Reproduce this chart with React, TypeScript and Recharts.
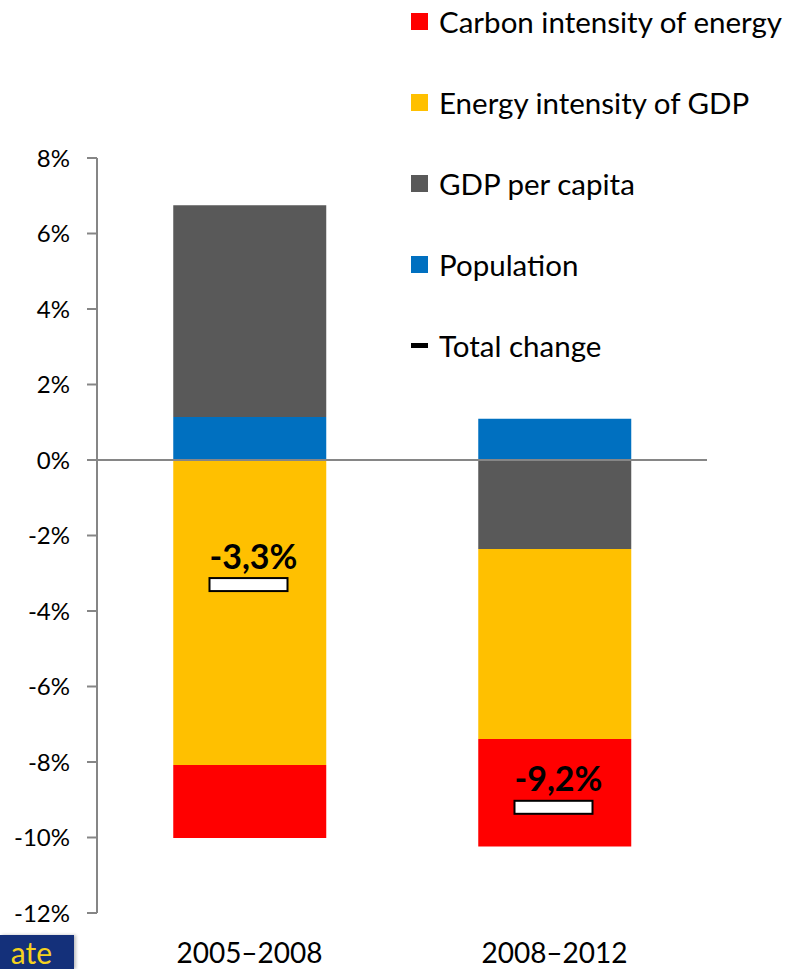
import {
  ComposedChart,
  Bar,
  Line,
  XAxis,
  YAxis,
  ReferenceLine,
  Legend,
} from "recharts";

const periods = ["2005–2008", "2008–2012"];
const population = [1.14, 1.09];
const gdpPerCapita = [5.61, -2.36];
const energyIntensity = [-8.08, -5.03];
const carbonIntensity = [-1.93, -2.85];
const totalChange = [-3.3, -9.2];
const yTicks = [-12, -10, -8, -6, -4, -2, 0, 2, 4, 6, 8];

const SERIES = [
  { key: "population", name: "Population", color: "#0070C0" },
  { key: "gdp", name: "GDP per capita", color: "#595959" },
  { key: "energy", name: "Energy intensity of GDP", color: "#FFC000" },
  { key: "carbon", name: "Carbon intensity of energy", color: "#FF0000" },
];

const data = periods.map((p, i) => ({
  period: p,
  population: population[i],
  gdp: gdpPerCapita[i],
  energy: energyIntensity[i],
  carbon: carbonIntensity[i],
  total: totalChange[i],
}));

const FONT = "Lato, 'Open Sans', sans-serif";

function TotalMarker(props: any) {
  const { cx, cy, value, index } = props;
  if (cx == null || cy == null) return null;
  const label = value.toFixed(1).replace(".", ",") + "%";
  return (
    <g key={`total-${index}`}>
      <text
        x={cx + 4}
        y={cy - 16}
        textAnchor="middle"
        fontFamily={FONT}
        fontWeight={700}
        fontSize={34}
        fill="#000"
      >
        {label}
      </text>
      <rect
        x={cx - 40}
        y={cy - 6.5}
        width={78}
        height={13}
        fill="#fff"
        stroke="#000"
        strokeWidth={2}
      />
    </g>
  );
}

function LegendBox() {
  const items = [...SERIES].reverse();
  // zero-height wrapper so the legend does not push the plot down
  return (
    <div style={{ height: 0, overflow: "visible" }}>
      <div style={{ fontFamily: FONT, fontSize: 29.5, color: "#000" }}>
        {items.map((s) => (
          <div
            key={s.key}
            style={{ display: "flex", alignItems: "center", height: 81 }}
          >
            <span
              style={{
                display: "inline-block",
                width: 17,
                height: 17,
                background: s.color,
                marginRight: 11,
              }}
            />
            <span>{s.name}</span>
          </div>
        ))}
        <div style={{ display: "flex", alignItems: "center", height: 81 }}>
          <span
            style={{
              display: "inline-block",
              width: 17,
              height: 5,
              background: "#000",
              marginRight: 11,
            }}
          />
          <span>Total change</span>
        </div>
      </div>
    </div>
  );
}

export default function App() {
  return (
    <div
      style={{
        position: "absolute",
        left: 0,
        top: 0,
        width: 798,
        height: 969,
        background: "#fff",
        overflow: "hidden",
      }}
    >
      <ComposedChart
        width={798}
        height={969}
        data={data}
        stackOffset="sign"
        barCategoryGap="25%"
        margin={{ top: 158, right: 91, bottom: 0, left: 0 }}
      >
        <XAxis
          dataKey="period"
          axisLine={false}
          tickLine={false}
          tickSize={0}
          tickMargin={30}
          height={56}
          tick={{ fontFamily: FONT, fontSize: 28, fill: "#000" }}
        />
        <YAxis
          width={97}
          domain={[-12, 8]}
          ticks={yTicks}
          interval={0}
          tickSize={10}
          tickMargin={17}
          tickFormatter={(v) => `${v}%`}
          axisLine={{ stroke: "#868686", strokeWidth: 2 }}
          tickLine={{ stroke: "#868686", strokeWidth: 2 }}
          tick={{ fontFamily: FONT, fontSize: 24, fill: "#000" }}
        />
        <Legend
          verticalAlign="top"
          align="right"
          content={() => <LegendBox />}
          wrapperStyle={{ position: "absolute", top: -19, left: 411, width: 390 }}
        />
        {SERIES.map((s) => (
          <Bar
            key={s.key}
            dataKey={s.key}
            name={s.name}
            stackId="a"
            fill={s.color}
            isAnimationActive={false}
          />
        ))}
        <ReferenceLine y={0} stroke="#868686" strokeWidth={2} />
        <Line
          dataKey="total"
          name="Total change"
          stroke="none"
          legendType="none"
          dot={(p: any) => <TotalMarker {...p} />}
          activeDot={false}
          isAnimationActive={false}
        />
      </ComposedChart>
      <div
        style={{
          position: "absolute",
          left: 0,
          top: 935,
          width: 74,
          height: 34,
          background: "#14307a",
          color: "#f5d21e",
          fontFamily: FONT,
          fontSize: 30,
          lineHeight: "34px",
          textAlign: "right",
          paddingRight: 22,
          boxSizing: "border-box",
          overflow: "hidden",
          boxShadow: "2px 0 3px rgba(0,0,0,0.25)",
        }}
      >
        ate
      </div>
    </div>
  );
}
